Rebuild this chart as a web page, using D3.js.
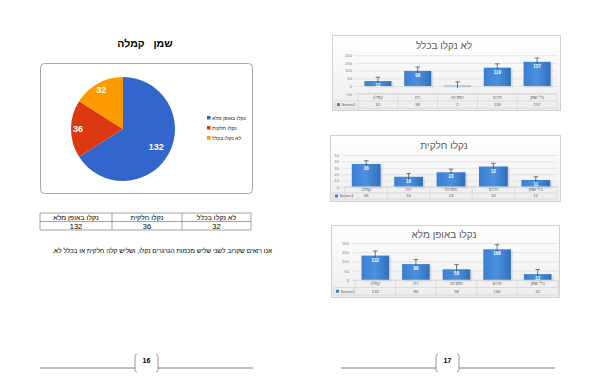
<!DOCTYPE html>
<html>
<head>
<meta charset="utf-8">
<script src="https://cdn.jsdelivr.net/npm/d3@7/dist/d3.min.js"></script>
<style>
  body { margin: 0; background: #fff; }
  svg { display: block; font-family: "Liberation Sans", Arial, sans-serif; }
</style>
</head>
<body>
<div id="page"></div>
<script>
// pie data
const pieLabels = ["נקלו באופן מלא", "נקלו חלקית", "לא נקלו בכלל"];
const pieValues = [132, 36, 32];
const pieColors = ["#3366cc", "#dc3912", "#ff9900"];

// bar chart data
const oils = ["קמלה", "זית", "חמניות", "תירס", "בלי שמן"];
const noneVals = [32, 98, 2, 119, 157];
const partVals = [36, 16, 23, 32, 11];
const fullVals = [132, 86, 58, 166, 32];
const noneErr = [25, 25, 25, 25, 25];
const partErr = [5, 5, 5, 5, 5];
const fullErr = [25, 25, 25, 25, 25];

const width = 600, height = 388;

const svg = d3.select("#page").append("svg")
    .attr("width", width)
    .attr("height", height);

const defs = svg.append("defs");
const barGrad = defs.append("linearGradient").attr("id", "barGrad")
    .attr("x1", 0).attr("x2", 1).attr("y1", 0).attr("y2", 0);
barGrad.append("stop").attr("offset", "0%").attr("stop-color", "#3b7fd0");
barGrad.append("stop").attr("offset", "50%").attr("stop-color", "#4b91e0");
barGrad.append("stop").attr("offset", "100%").attr("stop-color", "#2f6fbd");
const boxGrad = defs.append("linearGradient").attr("id", "boxGrad")
    .attr("x1", 0).attr("x2", 0).attr("y1", 0).attr("y2", 1);
boxGrad.append("stop").attr("offset", "0%").attr("stop-color", "#ffffff");
boxGrad.append("stop").attr("offset", "100%").attr("stop-color", "#ededed");

// ---------- left page ----------
svg.append("text")
    .attr("x", 145).attr("y", 47)
    .attr("text-anchor", "middle")
    .style("white-space", "pre")
    .style("font-size", "10.5px")
    .style("font-weight", "bold")
    .text("שמן   קמלה");

svg.append("rect")
    .attr("x", 40.5).attr("y", 63.5)
    .attr("width", 212).attr("height", 130)
    .attr("rx", 4)
    .attr("fill", "#fff")
    .attr("stroke", "#a6a6a6");

const pie = d3.pie().sort(null).value(d => d)(pieValues);
const arc = d3.arc().innerRadius(0).outerRadius(52);

const pieG = svg.append("g").attr("transform", "translate(123,129)");
pieG.selectAll("path")
    .data(pie)
    .enter().append("path")
    .attr("d", arc)
    .attr("fill", (d, i) => pieColors[i]);

pieG.selectAll(".pielabel")
    .data(pie)
    .enter().append("text")
    .attr("class", "pielabel")
    .attr("transform", d => {
        const r = d.value > 100 ? 38 : 45;
        return `translate(${d3.arc().innerRadius(r).outerRadius(r).centroid(d)})`;
    })
    .attr("text-anchor", "middle")
    .attr("dy", "0.35em")
    .attr("fill", "#fff")
    .style("font-size", "9px")
    .style("font-weight", "bold")
    .text(d => d.data);

const legend = svg.append("g").attr("transform", "translate(207,118)");
pieLabels.forEach((l, i) => {
    legend.append("rect")
        .attr("x", 0).attr("y", i * 10 - 2)
        .attr("width", 3.5).attr("height", 3.5)
        .attr("fill", pieColors[i]);
    legend.append("text")
        .attr("x", 5).attr("y", i * 10)
        .attr("dy", "0.35em")
        .style("font-size", "5.2px")
        .attr("fill", "#222")
        .text(l);
});

// summary table
const tX = [40, 112, 182, 251];
const tY = [213, 221.5, 230];
const tg = svg.append("g").attr("stroke", "#666").attr("stroke-width", 0.6);
tY.forEach(y => tg.append("line").attr("x1", tX[0]).attr("x2", tX[3]).attr("y1", y).attr("y2", y));
tX.forEach(x => tg.append("line").attr("x1", x).attr("x2", x).attr("y1", tY[0]).attr("y2", tY[2]));
pieLabels.forEach((h, i) => {
    svg.append("text")
        .attr("x", (tX[i] + tX[i + 1]) / 2).attr("y", 219.5)
        .attr("text-anchor", "middle")
        .style("font-size", "7px")
        .text(h);
    svg.append("text")
        .attr("x", (tX[i] + tX[i + 1]) / 2).attr("y", 228.5)
        .attr("text-anchor", "middle")
        .style("font-size", "7.5px")
        .text(pieValues[i]);
});

svg.append("text")
    .attr("x", 272).attr("y", 253)
    .attr("text-anchor", "start")
    .attr("direction", "rtl")
    .style("font-size", "6.5px")
    .text("אנו רואים שקרוב לשני שליש מכמות הגרגרים נקלו, ושליש קלה חלקית או בכלל לא.");

// ---------- right page bar charts ----------
function drawBarChart(cfg) {
    const g = svg.append("g");
    g.append("rect")
        .attr("x", cfg.box[0] + 0.5).attr("y", cfg.box[1] + 0.5)
        .attr("width", cfg.box[2] - cfg.box[0]).attr("height", cfg.box[3] - cfg.box[1])
        .attr("fill", "url(#boxGrad)")
        .attr("stroke", "#d0d0d0");

    g.append("text")
        .attr("x", 444).attr("y", cfg.titleY)
        .attr("text-anchor", "middle")
        .attr("fill", "#595959")
        .style("font-size", "10px")
        .text(cfg.title);

    const x = d3.scaleBand().domain(oils).range([cfg.x0, cfg.x1]).paddingInner(0.32).paddingOuter(0.16);
    const y = d3.scaleLinear().domain(cfg.domain).range([cfg.yBottom, cfg.yTop]);

    const grid = g.append("g").attr("transform", `translate(${cfg.x0 - 3},0)`)
        .call(d3.axisLeft(y).tickValues(cfg.ticks).tickSize(-(cfg.x1 - cfg.x0 + 3)).tickPadding(3));
    grid.select(".domain").remove();
    grid.selectAll("line").attr("stroke", "#d9d9d9").attr("stroke-width", 0.6);
    grid.selectAll("text").attr("fill", "#7f7f7f").style("font-size", "4.2px");

    // shadows
    g.selectAll(".shadow")
        .data(cfg.values)
        .enter().append("rect")
        .attr("x", (d, i) => x(oils[i]) + 2)
        .attr("y", d => Math.min(y(d), y(0)) + 1.5)
        .attr("width", x.bandwidth())
        .attr("height", d => Math.abs(y(0) - y(d)))
        .attr("fill", "#c8c8c8")
        .attr("opacity", 0.5);

    g.selectAll(".bar")
        .data(cfg.values)
        .enter().append("rect")
        .attr("x", (d, i) => x(oils[i]))
        .attr("y", d => Math.min(y(d), y(0)))
        .attr("width", x.bandwidth())
        .attr("height", d => Math.max(0.6, Math.abs(y(0) - y(d))))
        .attr("fill", "url(#barGrad)");

    g.selectAll(".err")
        .data(cfg.values)
        .enter().append("path")
        .attr("d", (d, i) => {
            const cx = x(oils[i]) + x.bandwidth() / 2;
            const top = y(d + cfg.errs[i]), bot = y(d - cfg.errs[i]);
            return `M${cx},${bot}V${top}M${cx - 2.3},${top}H${cx + 2.3}`;
        })
        .attr("stroke", "#404040")
        .attr("stroke-width", 0.7)
        .attr("fill", "none");

    g.selectAll(".val")
        .data(cfg.values)
        .enter().append("text")
        .attr("x", (d, i) => x(oils[i]) + x.bandwidth() / 2)
        .attr("y", d => y(d) + 6)
        .attr("text-anchor", "middle")
        .attr("fill", "#fff")
        .style("font-size", "4.5px")
        .style("font-weight", "bold")
        .text(d => d);

    // data table
    const rh = cfg.rowH;
    const rows = [cfg.yTable, cfg.yTable + rh, cfg.yTable + 2 * rh];
    const tl = g.append("g").attr("stroke", "#cfcfcf").attr("stroke-width", 0.6);
    const colEdges = [cfg.x0].concat(oils.map(o => x(o) - x.step() * x.paddingInner() / 2 + x.step()));
    colEdges[colEdges.length - 1] = cfg.x1;
    tl.append("line").attr("x1", cfg.x0).attr("x2", cfg.x1).attr("y1", rows[0]).attr("y2", rows[0]);
    tl.append("line").attr("x1", cfg.box[0] + 3).attr("x2", cfg.x1).attr("y1", rows[1]).attr("y2", rows[1]);
    tl.append("line").attr("x1", cfg.box[0] + 3).attr("x2", cfg.x1).attr("y1", rows[2]).attr("y2", rows[2]);
    tl.append("line").attr("x1", cfg.box[0] + 3).attr("x2", cfg.box[0] + 3).attr("y1", rows[1]).attr("y2", rows[2]);
    colEdges.forEach(cx => tl.append("line").attr("x1", cx).attr("x2", cx).attr("y1", rows[0]).attr("y2", rows[2]));

    oils.forEach((o, i) => {
        const cx = (colEdges[i] + colEdges[i + 1]) / 2;
        g.append("text").attr("x", cx).attr("y", rows[0] + rh / 2 + 1.5)
            .attr("text-anchor", "middle").attr("fill", "#595959")
            .style("font-size", "4.2px").text(o);
        g.append("text").attr("x", cx).attr("y", rows[1] + rh / 2 + 1.5)
            .attr("text-anchor", "middle").attr("fill", "#595959")
            .style("font-size", "4.2px").text(cfg.values[i]);
    });
    g.append("rect").attr("x", cfg.box[0] + 5).attr("y", rows[1] + rh / 2 - 1.5)
        .attr("width", 3).attr("height", 3).attr("fill", "#3b7fd0");
    g.append("text").attr("x", cfg.box[0] + 9.5).attr("y", rows[1] + rh / 2 + 1.5)
        .attr("fill", "#595959").style("font-size", "4.2px").text("Series1");
}

drawBarChart({
    title: "לא נקלו בכלל", box: [332, 35, 560, 110], titleY: 49,
    values: noneVals, errs: noneErr, domain: [-50, 200], ticks: [-50, 0, 50, 100, 150, 200],
    yBottom: 93.7, yTop: 55.2, x0: 358, x1: 557, yTable: 93.7, rowH: 7.3
});
drawBarChart({
    title: "נקלו חלקית", box: [330, 135, 560, 201], titleY: 149,
    values: partVals, errs: partErr, domain: [0, 50], ticks: [0, 10, 20, 30, 40, 50],
    yBottom: 187, yTop: 155, x0: 345, x1: 557, yTable: 186.5, rowH: 6.3
});
drawBarChart({
    title: "נקלו באופן מלא", box: [331, 225, 559, 297], titleY: 238,
    values: fullVals, errs: fullErr, domain: [0, 200], ticks: [0, 50, 100, 150, 200],
    yBottom: 280, yTop: 243, x0: 355, x1: 558, yTable: 280, rowH: 7.5
});

// ---------- page footers ----------
function footer(x1, bx0, bx1, x2, num) {
    const f = svg.append("g").attr("stroke", "#7f7f7f").attr("fill", "none");
    f.append("line").attr("x1", x1).attr("x2", bx0).attr("y1", 368).attr("y2", 368).attr("stroke-width", 1);
    f.append("line").attr("x1", bx1).attr("x2", x2).attr("y1", 368).attr("y2", 368).attr("stroke-width", 1);
    f.append("path").attr("d", `M${bx0 + 2},354 Q${bx0},354 ${bx0},356.5 V369.5 Q${bx0},372 ${bx0 + 2},372`).attr("stroke-width", 0.8);
    f.append("path").attr("d", `M${bx1 - 2},354 Q${bx1},354 ${bx1},356.5 V369.5 Q${bx1},372 ${bx1 - 2},372`).attr("stroke-width", 0.8);
    svg.append("text").attr("x", (bx0 + bx1) / 2).attr("y", 363)
        .attr("text-anchor", "middle")
        .style("font-size", "7px").style("font-weight", "bold")
        .text(num);
}
footer(40, 135, 158, 253, "16");
footer(341, 436, 459, 555, "17");
</script>
</body>
</html>
